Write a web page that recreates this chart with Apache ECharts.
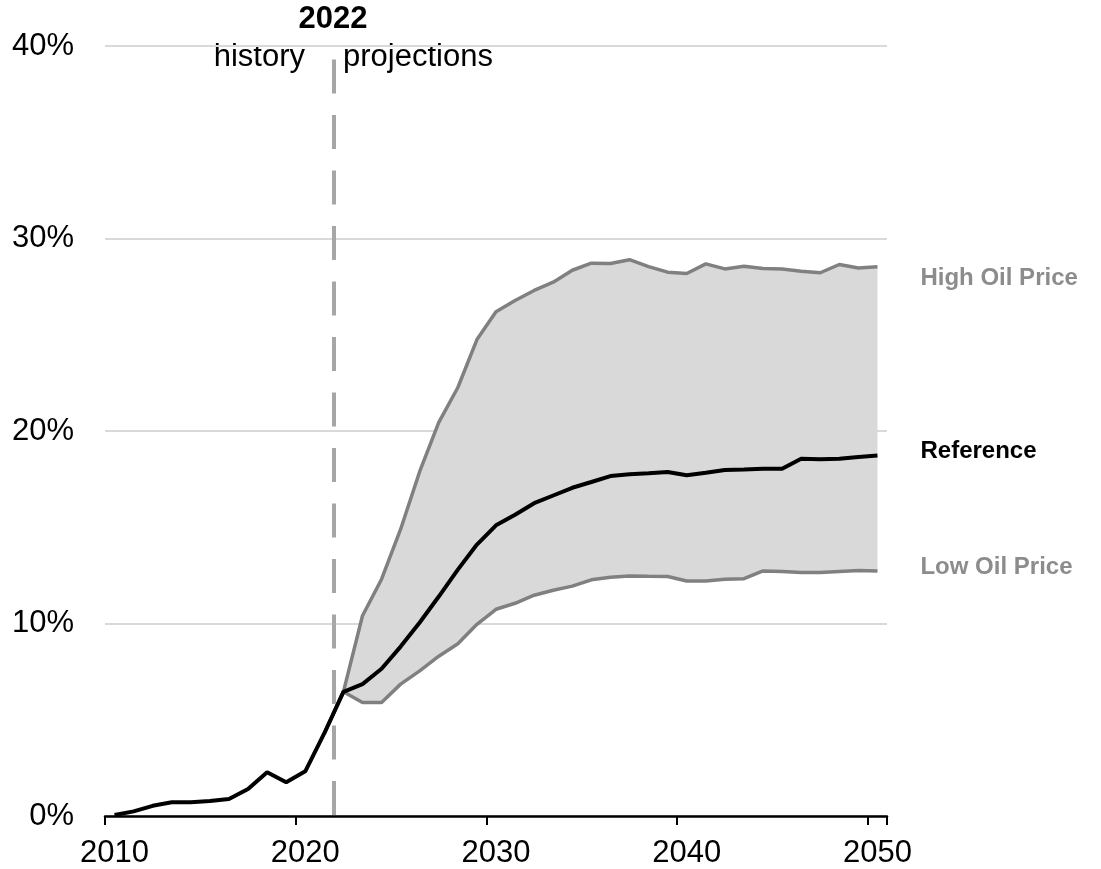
<!DOCTYPE html>
<html>
<head>
<meta charset="utf-8">
<script src="https://cdn.jsdelivr.net/npm/echarts@6/dist/echarts.min.js"></script>
<style>
html,body{margin:0;padding:0;background:#fff;}
#chart{width:1101px;height:869px;}
</style>
</head>
<body>
<div id="chart"></div>
<script>
const years = ['2010','2011','2012','2013','2014','2015','2016','2017','2018','2019',
  '2020','2021','2022','2023','2024','2025','2026','2027','2028','2029',
  '2030','2031','2032','2033','2034','2035','2036','2037','2038','2039',
  '2040','2041','2042','2043','2044','2045','2046','2047','2048','2049','2050'];

const reference = [0.05,0.24,0.53,0.71,0.71,0.78,0.88,1.40,2.27,1.75,
  2.32,4.3,6.45,6.85,7.65,8.8,10.05,11.4,12.8,14.1,
  15.1,15.65,16.25,16.65,17.05,17.35,17.66,17.75,17.8,17.87,
  17.7,17.83,17.97,18.0,18.04,18.04,18.56,18.53,18.56,18.65,18.73];

const highOil = [null,null,null,null,null,null,null,null,null,null,
  null,4.3,6.45,10.4,12.3,14.9,17.9,20.45,22.26,24.75,
  26.2,26.78,27.3,27.73,28.35,28.72,28.7,28.9,28.54,28.25,
  28.18,28.68,28.42,28.56,28.44,28.42,28.3,28.22,28.65,28.47,28.53];

const lowOil = [null,null,null,null,null,null,null,null,null,null,
  null,4.3,6.45,5.9,5.9,6.85,7.54,8.3,8.95,9.96,
  10.74,11.05,11.47,11.73,11.94,12.27,12.4,12.47,12.45,12.44,
  12.21,12.21,12.3,12.33,12.73,12.7,12.65,12.65,12.7,12.75,12.73];

const yTicks = [0,10,20,30,40];
const divideYear = 2022;
const dividerTop = 39.3;

const bandWidth = highOil.map((h,i) => (h == null || lowOil[i] == null) ? null : +(h - lowOil[i]).toFixed(3));

const chart = echarts.init(document.getElementById('chart'), null, {renderer:'canvas'});
const FONT = 'Liberation Sans, Arial, sans-serif';

chart.setOption({
  animation: false,
  backgroundColor: '#ffffff',
  textStyle: { fontFamily: FONT },
  grid: { left: 105, right: 214, top: 46, bottom: 52, containLabel: false },
  xAxis: [{
    type: 'category',
    data: years,
    boundaryGap: true,
    axisLine: { show: true, lineStyle: { color: '#000', width: 2.5 } },
    axisTick: { show: true, interval: 9, length: 9, lineStyle: { color: '#000', width: 2 } },
    axisLabel: { interval: 9, fontSize: 31, color: '#000', margin: 22, fontFamily: FONT },
    splitLine: { show: false }
  }, {
    type: 'value',
    min: 2010, max: 2051,
    show: false
  }],
  yAxis: {
    type: 'value',
    min: yTicks[0], max: yTicks[yTicks.length-1], interval: 10,
    axisLine: { show: false },
    axisTick: { show: false },
    axisLabel: { formatter: '{value}%', fontSize: 31, color: '#000', margin: 31, fontFamily: FONT },
    splitLine: { show: true, lineStyle: { color: '#d9d9d9', width: 2 } }
  },
  series: [
    {
      name: 'bandBase', type: 'line', data: lowOil, stack: 'band',
      symbol: 'none', silent: true, lineStyle: { opacity: 0 }, z: 1
    },
    {
      name: 'band', type: 'line', data: bandWidth, stack: 'band',
      symbol: 'none', silent: true, lineStyle: { opacity: 0 },
      areaStyle: { color: '#d9d9d9', opacity: 1 }, z: 1
    },
    {
      name: 'High Oil Price', type: 'line', data: highOil, symbol: 'none', z: 3,
      lineStyle: { color: '#808080', width: 3.5 },
      endLabel: { show: true, formatter: 'High Oil Price', color: '#8c8c8c', fontWeight: 'bold',
        fontSize: 24, fontFamily: FONT, offset: [35, 12] }
    },
    {
      name: 'Low Oil Price', type: 'line', data: lowOil, symbol: 'none', z: 3,
      lineStyle: { color: '#808080', width: 3.5 },
      endLabel: { show: true, formatter: 'Low Oil Price', color: '#8c8c8c', fontWeight: 'bold',
        fontSize: 24, fontFamily: FONT, offset: [35, -4] }
    },
    {
      name: 'Reference', type: 'line', data: reference, symbol: 'none', z: 4,
      lineStyle: { color: '#000000', width: 4 },
      endLabel: { show: true, formatter: 'Reference', color: '#000', fontWeight: 'bold',
        fontSize: 24, fontFamily: FONT, offset: [35, -4] }
    },
    {
      name: 'divider', type: 'line', xAxisIndex: 1, yAxisIndex: 0, data: [], z: 2,
      markLine: {
        silent: true, symbol: 'none', animation: false,
        label: { show: false },
        lineStyle: { color: '#a6a6a6', width: 4, type: [34, 21.5] },
        data: [[{ coord: [divideYear, dividerTop] }, { coord: [divideYear, 0] }]]
      }
    }
  ],
  graphic: [
    { type: 'text', x: 333, y: 19,
      style: { text: String(divideYear), fill: '#000', font: 'bold 31px ' + FONT,
        align: 'center', verticalAlign: 'middle', textAlign: 'center', textVerticalAlign: 'middle' } },
    { type: 'text', x: 305, y: 57,
      style: { text: 'history', fill: '#000', font: '31px ' + FONT,
        align: 'right', verticalAlign: 'middle', textAlign: 'right', textVerticalAlign: 'middle' } },
    { type: 'text', x: 343, y: 57,
      style: { text: 'projections', fill: '#000', font: '31px ' + FONT,
        align: 'left', verticalAlign: 'middle', textAlign: 'left', textVerticalAlign: 'middle' } }
  ]
});
</script>
</body>
</html>
